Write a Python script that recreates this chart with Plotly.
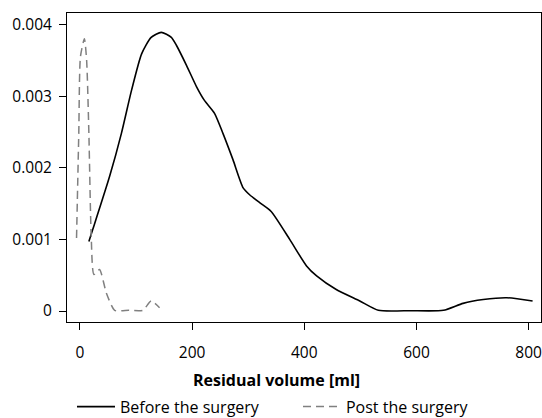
import plotly.graph_objects as go

before_x = [16, 23, 53, 74, 92, 110, 127, 145, 163, 172, 190, 208, 222, 240, 255, 273, 291, 303, 321, 341, 374, 404, 422, 457, 499, 532, 590, 648, 683, 719, 761, 807]
before_y = [0.00097, 0.00114, 0.00188, 0.00248, 0.00308, 0.00359, 0.00382, 0.00389, 0.00382, 0.00371, 0.00343, 0.00313, 0.00294, 0.00276, 0.00248, 0.00211, 0.00172, 0.00162, 0.00151, 0.00139, 0.00100, 0.00063, 0.00049, 0.00030, 0.00014, 0.00001, 0.000005, 0.00001, 0.000107, 0.00016, 0.000186, 0.00014]

post_x = [-6, -2, 1, 8, 12, 16, 20, 25, 35, 47, 62, 87, 112, 127, 142]
post_y = [0.00102, 0.00248, 0.00355, 0.0038, 0.0035, 0.00248, 0.00109, 0.00051, 0.00058, 0.000256, 0.00001, 0.00001, 0.00001, 0.00014, 0.000047]

x_ticks = [0, 200, 400, 600, 800]
y_ticks = [0, 0.001, 0.002, 0.003, 0.004]
y_tick_text = ["0", "0.001", "0.002", "0.003", "0.004"]
x_title = "Residual volume [ml]"

fig = go.Figure()
fig.add_trace(go.Scatter(x=before_x, y=before_y, mode="lines", name="Before the surgery",
                         line=dict(color="black", width=1.6, shape="spline", smoothing=0.6)))
fig.add_trace(go.Scatter(x=post_x, y=post_y, mode="lines", name="Post the surgery",
                         line=dict(color="#808080", width=1.5, dash="8px,5px", shape="spline", smoothing=0.6)))

axis_common = dict(showline=True, linecolor="black", linewidth=1, mirror=True,
                   ticks="outside", ticklen=7, tickcolor="black", showgrid=False, zeroline=False,
                   automargin=False, ticklabeloverflow="allow")
fig.update_xaxes(range=[-23, 822], tickvals=x_ticks, **axis_common, ticklabelstandoff=9,
                 tickfont=dict(size=15.5))
fig.update_yaxes(range=[-0.000153, 0.00416], tickvals=y_ticks, ticktext=y_tick_text, **axis_common,
                 ticklabelstandoff=4, tickfont=dict(size=15.5))

fig.add_annotation(text="<b>" + x_title + "</b>", xref="paper", yref="paper",
                   x=0.441, y=-0.1877, xanchor="center", yanchor="middle", showarrow=False,
                   font=dict(size=16))

fig.update_layout(
    width=542, height=418,
    margin=dict(l=67, r=1, t=13, b=96, autoexpand=False),
    paper_bgcolor="white", plot_bgcolor="white",
    font=dict(family="Open Sans", size=15, color="black"),
    showlegend=True,
    legend=dict(orientation="h", xref="container", x=0.5498, xanchor="center",
                yref="container", y=0.027, yanchor="middle", font=dict(size=16),
                itemwidth=38, entrywidth=173),
)
fig.write_html("out.html", config={"displayModeBar": False},
               post_script="document.body.style.margin='0';document.body.style.padding='0';")
